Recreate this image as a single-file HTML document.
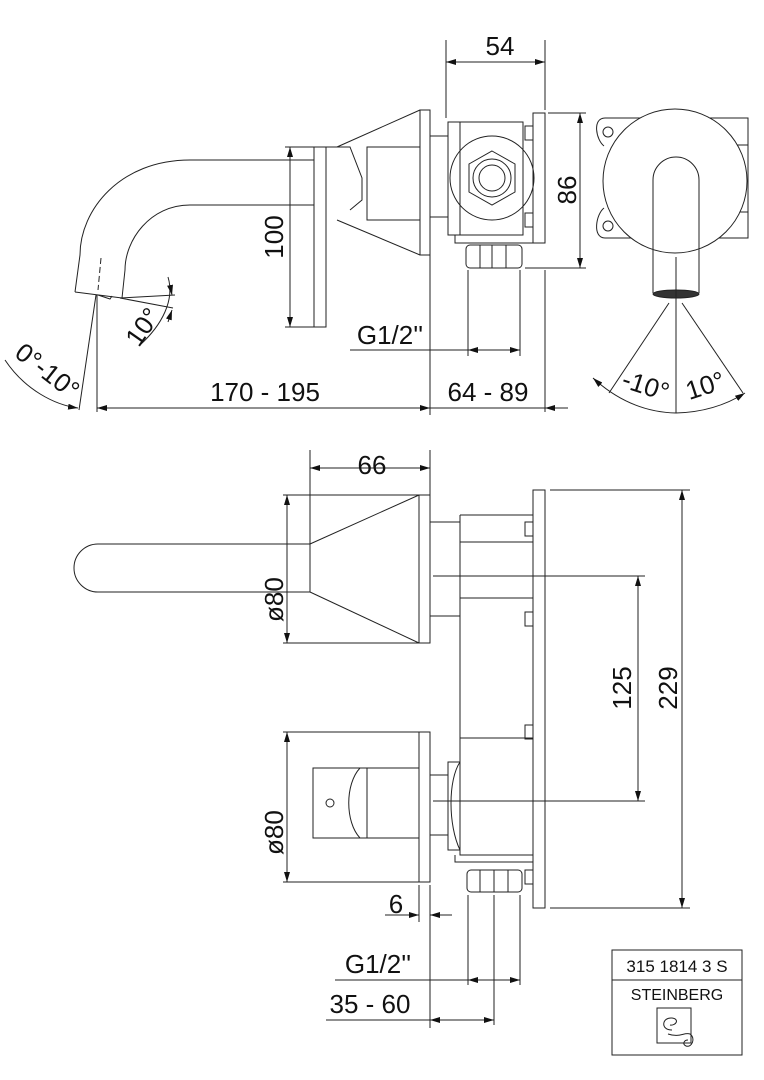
<!DOCTYPE html>
<html><head><meta charset="utf-8"><style>
html,body{margin:0;padding:0;background:#fff}
svg{display:block}
text{font-family:"Liberation Sans",sans-serif;fill:#111}
</style></head><body>
<svg width="764" height="1080" viewBox="0 0 764 1080" xmlns="http://www.w3.org/2000/svg">
<defs>
<marker id="a" viewBox="0 0 10 6" refX="10" refY="3" markerWidth="10" markerHeight="6" orient="auto-start-reverse" markerUnits="userSpaceOnUse"><path d="M0,0 L10,3 L0,6z" fill="#111"/></marker>
</defs>
<g fill="none" stroke="#222" stroke-width="1">
<line x1="446" y1="40" x2="446" y2="118"/><line x1="545" y1="40" x2="545" y2="110"/>
<line x1="446" y1="62" x2="545" y2="62" marker-start="url(#a)" marker-end="url(#a)"/>
<rect x="448" y="122" width="75" height="113"/>
<line x1="460" y1="122" x2="460" y2="235"/>
<rect x="533" y="113" width="12" height="130"/>
<rect x="525" y="126" width="8" height="14"/><rect x="525" y="213" width="8" height="14"/>
<path d="M455,235 L455,243 L533,243"/>
<circle cx="492" cy="178" r="42"/>
<polygon points="492,151 515,164 515,192 492,205 469,192 469,164"/>
<circle cx="492" cy="178" r="19"/><circle cx="492" cy="178" r="13"/>
<rect x="466" y="245" width="56" height="23" rx="4"/>
<line x1="480" y1="245" x2="480" y2="268"/><line x1="492" y1="245" x2="492" y2="268"/><line x1="506" y1="245" x2="506" y2="268"/>
<line x1="548" y1="113" x2="586" y2="113"/><line x1="525" y1="268" x2="586" y2="268"/>
<line x1="580" y1="113" x2="580" y2="268" marker-start="url(#a)" marker-end="url(#a)"/>
<rect x="430" y="136" width="18" height="81"/>
<rect x="420" y="110" width="10" height="145"/>
<line x1="420" y1="110" x2="337" y2="147"/><line x1="420" y1="255" x2="337" y2="220"/>
<rect x="367" y="147" width="53" height="73"/>
<path d="M314,147 L337,147 L350,147 L362,178 L362,200 L350,210"/>
<rect x="314" y="147" width="12" height="180"/>
<line x1="326" y1="147" x2="326" y2="220"/>
<path d="M314,160 L190,160 C120,160 80,210 80,255 L75,292"/>
<path d="M314,205 L190,205 C150,205 125,240 125,270 L122,298"/>
<path d="M75,292 L122,298"/>
<path d="M98,295 L110,299 L112,296"/>
<line x1="101" y1="258" x2="98" y2="290" stroke-dasharray="6,3"/>
<line x1="96" y1="295" x2="79" y2="410"/>
<line x1="97" y1="295" x2="97" y2="412"/>
<line x1="120" y1="298" x2="175" y2="295"/>
<line x1="120" y1="298" x2="173" y2="308"/>
<path d="M168,277 C175,300 162,325 140,345"/>
<path d="M170,285 L172,295" marker-end="url(#a)"/>
<path d="M168,322 L172,310" marker-end="url(#a)"/>
<path d="M5,360 C25,390 55,405 78,408" marker-end="url(#a)"/>
<line x1="285" y1="147" x2="314" y2="147"/><line x1="285" y1="327" x2="314" y2="327"/>
<line x1="290" y1="147" x2="290" y2="327" marker-start="url(#a)" marker-end="url(#a)"/>
<line x1="430" y1="255" x2="430" y2="415"/>
<line x1="545" y1="270" x2="545" y2="412"/>
<line x1="97" y1="408" x2="430" y2="408" marker-start="url(#a)" marker-end="url(#a)"/>
<line x1="430" y1="408" x2="545" y2="408"/>
<line x1="568" y1="408" x2="545" y2="408" marker-end="url(#a)"/>
<line x1="468" y1="270" x2="468" y2="356"/><line x1="520" y1="270" x2="520" y2="356"/>
<line x1="350" y1="350" x2="520" y2="350"/>
<line x1="468" y1="350" x2="488" y2="350" marker-start="url(#a)"/>
<line x1="500" y1="350" x2="520" y2="350" marker-end="url(#a)"/>

<path d="M605,118 L748,118 L748,238 L605,238"/>
<path d="M605,118 C592,118 596,140 604,146"/>
<path d="M605,238 C592,238 596,214 604,208"/>
<circle cx="608" cy="132" r="5"/><circle cx="608" cy="226" r="5"/>
<line x1="748" y1="145" x2="735" y2="145"/><line x1="748" y1="212" x2="735" y2="212"/>
<circle cx="675" cy="181" r="72" fill="#fff"/>
<path d="M653,293 L653,180 A23,23 0 0 1 699,180 L699,293"/>
<ellipse cx="676" cy="294" rx="23" ry="4" fill="#333"/>
<line x1="676" y1="257" x2="676" y2="413"/>
<line x1="669" y1="303" x2="609" y2="393"/>
<line x1="682" y1="303" x2="743" y2="393"/>
<path d="M593,378 Q630,412 676,413" marker-start="url(#a)"/>
<path d="M745,393 Q715,412 676,413" marker-start="url(#a)"/>

<line x1="310" y1="450" x2="310" y2="544"/><line x1="430" y1="450" x2="430" y2="495"/>
<line x1="310" y1="468" x2="430" y2="468" marker-start="url(#a)" marker-end="url(#a)"/>
<rect x="419" y="495" width="11" height="148"/>
<line x1="419" y1="495" x2="310" y2="544"/><line x1="419" y1="643" x2="310" y2="592"/>
<line x1="310" y1="544" x2="310" y2="592"/>
<path d="M310,544 L98,544 A24,24 0 0 0 98,592 L310,592"/>
<line x1="283" y1="495" x2="419" y2="495"/><line x1="283" y1="643" x2="419" y2="643"/>
<line x1="287" y1="495" x2="287" y2="643" marker-start="url(#a)" marker-end="url(#a)"/>
<rect x="430" y="522" width="30" height="94"/>
<path d="M460,515 L533,515 M460,542 L533,542 M460,598 L533,598 M460,738 L533,738 M460,515 L460,738"/>
<path d="M460,738 L460,855 L533,855"/>
<rect x="448" y="762" width="12" height="88"/>
<path d="M460,762 C448,780 448,825 460,850"/>
<path d="M455,855 L455,862 L533,862"/>
<rect x="533" y="490" width="12" height="418"/>
<rect x="525" y="522" width="8" height="14"/><rect x="525" y="612" width="8" height="14"/>
<rect x="525" y="725" width="8" height="14"/><rect x="525" y="870" width="8" height="14"/>
<rect x="467" y="870" width="55" height="22" rx="4"/>
<line x1="480" y1="870" x2="480" y2="892"/><line x1="494" y1="870" x2="494" y2="892"/><line x1="508" y1="870" x2="508" y2="892"/>
<line x1="550" y1="490" x2="690" y2="490"/><line x1="550" y1="908" x2="690" y2="908"/>
<line x1="682" y1="490" x2="682" y2="908" marker-start="url(#a)" marker-end="url(#a)"/>
<line x1="433" y1="576" x2="645" y2="576"/><line x1="433" y1="801" x2="645" y2="801"/>
<line x1="638" y1="576" x2="638" y2="801" marker-start="url(#a)" marker-end="url(#a)"/>
<rect x="419" y="732" width="11" height="150"/>
<rect x="313" y="768" width="106" height="70"/>
<line x1="367" y1="768" x2="367" y2="838"/>
<path d="M360,768 C345,784 345,822 360,838"/>
<circle cx="330" cy="803" r="4"/>
<rect x="430" y="775" width="18" height="60"/>
<line x1="283" y1="732" x2="419" y2="732"/><line x1="283" y1="882" x2="419" y2="882"/>
<line x1="287" y1="732" x2="287" y2="882" marker-start="url(#a)" marker-end="url(#a)"/>
<line x1="419" y1="885" x2="419" y2="922"/><line x1="430" y1="885" x2="430" y2="1028"/>
<line x1="385" y1="915" x2="419" y2="915" marker-end="url(#a)"/>
<line x1="452" y1="915" x2="430" y2="915" marker-end="url(#a)"/>
<line x1="468" y1="895" x2="468" y2="985"/><line x1="520" y1="895" x2="520" y2="985"/>
<line x1="494" y1="895" x2="494" y2="1025"/>
<line x1="335" y1="980" x2="520" y2="980"/>
<line x1="468" y1="980" x2="488" y2="980" marker-start="url(#a)"/>
<line x1="500" y1="980" x2="520" y2="980" marker-end="url(#a)"/>
<line x1="326" y1="1020" x2="494" y2="1020"/>
<line x1="430" y1="1020" x2="450" y2="1020" marker-start="url(#a)"/>
<line x1="474" y1="1020" x2="494" y2="1020" marker-end="url(#a)"/>
<rect x="612" y="950" width="130" height="105"/>
<line x1="612" y1="980" x2="742" y2="980"/>
<rect x="657" y="1008" width="34" height="35"/>
<path d="M672,1030 C660,1030 662,1017 672,1018 C680,1019 676,1026 670,1025 M668,1034 C680,1038 684,1032 690,1034 C696,1038 692,1048 686,1046 C682,1044 684,1040 688,1040"/>
</g>
<g font-size="26">
<text x="500" y="55" text-anchor="middle">54</text>
<text transform="translate(576,190) rotate(-90)" text-anchor="middle">86</text>
<text transform="translate(283,237) rotate(-90)" text-anchor="middle">100</text>
<text x="390" y="344" text-anchor="middle">G1/2''</text>
<text x="265" y="401" text-anchor="middle">170 - 195</text>
<text x="488" y="401" text-anchor="middle">64 - 89</text>
<text transform="translate(150,332) rotate(-55)" text-anchor="middle">10°</text>
<text transform="translate(42,378) rotate(38)" text-anchor="middle">0°-10°</text>
<text transform="translate(643,394) rotate(18)" text-anchor="middle">-10°</text>
<text transform="translate(708,394) rotate(-18)" text-anchor="middle">10°</text>
<text x="372" y="474" text-anchor="middle">66</text>
<text transform="translate(283,622) rotate(-90)">ø80</text>
<text transform="translate(283,855) rotate(-90)">ø80</text>
<text transform="translate(631,688) rotate(-90)" text-anchor="middle">125</text>
<text transform="translate(677,688) rotate(-90)" text-anchor="middle">229</text>
<text x="396" y="913" text-anchor="middle">6</text>
<text x="378" y="973" text-anchor="middle">G1/2''</text>
<text x="370" y="1013" text-anchor="middle">35 - 60</text>
</g>
<text x="677" y="972" font-size="17" text-anchor="middle">315 1814 3 S</text>
<text x="677" y="1000" font-size="16" text-anchor="middle" fill="#444">STEINBERG</text>
</svg>
</body></html>
